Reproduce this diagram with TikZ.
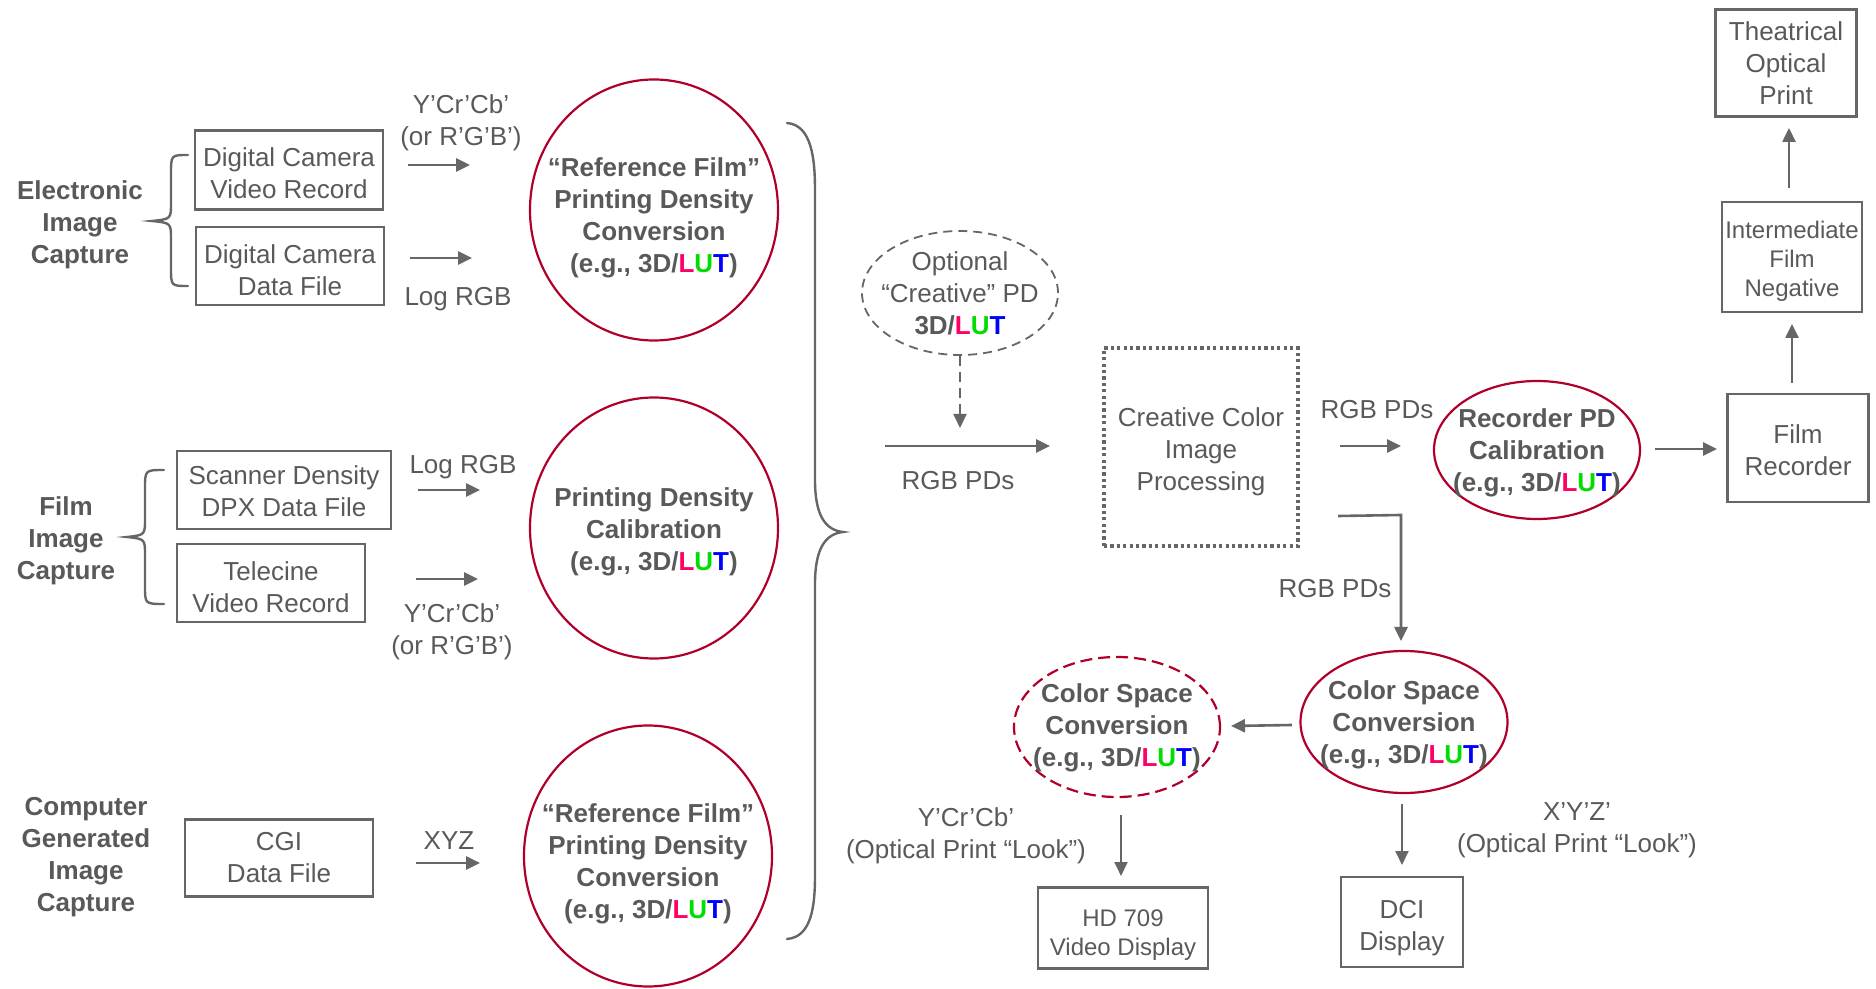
\documentclass[tikz,border=0pt]{standalone}
\usepackage{fontspec}
\setmainfont{Liberation Sans}
\usetikzlibrary{shapes.geometric,arrows.meta}
\definecolor{txt}{HTML}{595959}
\definecolor{ln}{HTML}{666666}
\definecolor{ered}{HTML}{B0002A}
\definecolor{lutL}{HTML}{FF0066}
\definecolor{lutU}{HTML}{00DD00}
\definecolor{lutT}{HTML}{0000FF}
\newcommand\lutword{\textcolor{lutL}{L}\textcolor{lutU}{U}\textcolor{lutT}{T}}
% centred block of lines, lowered by #1 without changing its size
\newcommand\mltext[2][0pt]{\raisebox{-#1}[\height][\depth]{\begin{tabular}{@{}c@{}}#2\end{tabular}}}

\begin{document}
\begin{tikzpicture}[x=0.5pt,y=-0.5pt,
  every node/.style={text=txt, font=\fontsize{13}{16}\selectfont, align=center, inner sep=0pt},
  box/.style={draw=ln, line width=1.2pt, rectangle},
  smallbox/.style={box, font=\fontsize{12}{14.5}\selectfont},
  lens/.style={ellipse, draw=ered, line width=1.1pt, inner xsep=-45pt, inner ysep=-40pt,
    font=\fontsize{13}{16}\selectfont\bfseries},
  dlens/.style={lens, dash pattern=on 6pt off 3pt},
  optlens/.style={ellipse, draw=ln, line width=0.9pt, dash pattern=on 4.5pt off 3pt,
    inner xsep=-40pt, inner ysep=-30pt},
  procbox/.style={rectangle, draw=ln, line width=1.6pt, dash pattern=on 1.6pt off 1.6pt},
  grouplabel/.style={font=\fontsize{13}{16}\selectfont\bfseries},
  arr/.style={draw=ln, line width=1.3pt, -{Triangle[length=7pt,width=6.5pt]}},
  thinarr/.style={draw=ln, line width=1pt, -{Triangle[length=7pt,width=6.5pt]}},
  dasharr/.style={thinarr, dash pattern=on 5pt off 3pt},
  brc/.style={draw=ln, line width=1.2pt, line cap=round}
]
\useasboundingbox (0,0) rectangle (1876,989);

% ---------- capture groups ----------
\node[grouplabel] (elec) at (80,225) {Electronic\\Image\\Capture};
\node[grouplabel] (filmcap) at (66,541) {Film\\Image\\Capture};
\node[grouplabel] (cgicap) at (86,857) {Computer\\Generated\\Image\\Capture};

\draw[brc] (188,155) .. controls (171,155) .. (171,174) -- (171,203)
  .. controls (171,219) .. (152,221) .. controls (171,223) .. (171,239)
  -- (171,268) .. controls (171,286) .. (188,286);
\draw[brc] (164,470) .. controls (145,470) .. (145,489) -- (145,519)
  .. controls (145,535) .. (127,537) .. controls (145,539) .. (145,555)
  -- (145,586) .. controls (145,604) .. (164,604);

\node[box, minimum width=94pt, minimum height=39.5pt] (dcvid) at (289,170) {\mltext[3pt]{Digital Camera\\Video Record}};
\node[box, minimum width=94pt, minimum height=39pt] (dcdat) at (290,266) {\mltext[3.6pt]{Digital Camera\\Data File}};
\node[box, minimum width=107pt, minimum height=39pt] (scan) at (284,490) {\mltext[2.1pt]{Scanner Density\\DPX Data File}};
\node[box, minimum width=94pt, minimum height=39pt] (tele) at (271,583) {\mltext[3.6pt]{Telecine\\Video Record}};
\node[box, minimum width=94pt, minimum height=38.5pt] (cgi) at (279,858) {\mltext[1.2pt]{CGI\\Data File}};

% ---------- input signal arrows ----------
\coordinate (a1s) at (408,165); \coordinate (a1e) at (470,165);
\coordinate (a2s) at (410,258); \coordinate (a2e) at (472,258);
\coordinate (a3s) at (418,490); \coordinate (a3e) at (480,490);
\coordinate (a4s) at (416,579); \coordinate (a4e) at (478,579);
\coordinate (a5s) at (416,863); \coordinate (a5e) at (480,863);
\draw[arr] (a1s) -- (a1e);
\draw[arr] (a2s) -- (a2e);
\draw[arr] (a3s) -- (a3e);
\draw[arr] (a4s) -- (a4e);
\draw[arr] (a5s) -- (a5e);

\node (l1) at (461,123) {Y’Cr’Cb’\\(or R’G’B’)};
\node (l2) at (458,299) {Log RGB};
\node (l3) at (463,467) {Log RGB};
\node (l4) at (452,632) {Y’Cr’Cb’\\(or R’G’B’)};
\node (l5) at (449,841) {XYZ};

% ---------- printing density conversions ----------
\node[lens, minimum width=124pt, minimum height=130.5pt] (pd1) at (654,210)
  {\mltext[4.3pt]{“Reference Film”\\Printing Density\\Conversion\\(e.g., 3D/\lutword)}};
\node[lens, minimum width=124pt, minimum height=130.5pt] (pd2) at (654,528)
  {\mltext[2.2pt]{Printing Density\\Calibration\\(e.g., 3D/\lutword)}};
\node[lens, minimum width=124pt, minimum height=130.5pt] (pd3) at (648,856)
  {\mltext[4.1pt]{“Reference Film”\\Printing Density\\Conversion\\(e.g., 3D/\lutword)}};

\draw[brc] (787,123) .. controls (812,125) and (815,160) .. (815,190) -- (815,480)
  .. controls (815,515) and (825,530) .. (843,532) .. controls (825,534) and (815,549) .. (815,584)
  -- (815,875) .. controls (815,905) and (812,937) .. (787,939);

% ---------- creative stage ----------
\node[optlens, minimum width=98pt, minimum height=62pt] (opt) at (960,293)
  {\mltext[1.6pt]{Optional\\“Creative” PD\\\textbf{3D/\lutword}}};
\coordinate (optend) at (960,428);
\draw[dasharr] (opt.south) -- (optend);

\coordinate (m1s) at (885,446); \coordinate (m1e) at (1050,446);
\draw[arr] (m1s) -- (m1e);
\node (l6) at (958,481) {RGB PDs};

\node[procbox, minimum width=97pt, minimum height=99pt] (proc) at (1201,447)
  {\mltext[2.6pt]{Creative Color\\Image\\Processing}};

% ---------- film recording branch ----------
\coordinate (r1s) at (1340,446); \coordinate (r1e) at (1401,446);
\draw[arr] (r1s) -- (r1e);
\node (l7) at (1377,410) {RGB PDs};

\node[lens, minimum width=103pt, minimum height=69pt] (rec) at (1537,450)
  {\mltext[1.5pt]{Recorder PD\\Calibration\\(e.g., 3D/\lutword)}};

\coordinate (r2s) at (1655,449); \coordinate (r2e) at (1717,449);
\draw[arr] (r2s) -- (r2e);

\node[box, minimum width=70.5pt, minimum height=54pt] (frec) at (1798,448) {\mltext[2.4pt]{Film\\Recorder}};
\node[smallbox, minimum width=70pt, minimum height=55pt] (inter) at (1792,257) {\mltext[2.4pt]{Intermediate\\Film\\Negative}};
\node[box, minimum width=70.5pt, minimum height=53.5pt] (theat) at (1786,63) {\mltext[1.8pt]{Theatrical\\Optical\\Print}};

\coordinate (u1s) at (1792,383); \coordinate (u1e) at (1792,324);
\coordinate (u2s) at (1789,188); \coordinate (u2e) at (1789,128);
\draw[arr] (u1s) -- (u1e);
\draw[arr] (u2s) -- (u2e);

% ---------- display branch ----------
\coordinate (b1) at (1338,516); \coordinate (b2) at (1401,515); \coordinate (b3) at (1401,641);
\draw[arr] (b1) -- (b2) -- (b3);
\node (l8) at (1335,589) {RGB PDs};

\node[lens, minimum width=103.5pt, minimum height=71pt] (cscr) at (1404,722)
  {\mltext[1.6pt]{Color Space\\Conversion\\(e.g., 3D/\lutword)}};
\node[dlens, minimum width=103pt, minimum height=70pt] (cscl) at (1117,727)
  {\mltext[0.5pt]{Color Space\\Conversion\\(e.g., 3D/\lutword)}};

\coordinate (h1s) at (1292,725); \coordinate (h1e) at (1231,726);
\draw[arr] (h1s) -- (h1e);

\coordinate (d1s) at (1121,815); \coordinate (d1e) at (1121,876);
\coordinate (d2s) at (1402,804); \coordinate (d2e) at (1402,865);
\draw[thinarr] (d1s) -- (d1e);
\draw[thinarr] (d2s) -- (d2e);

\node (l9) at (966,836) {Y’Cr’Cb’\\(Optical Print “Look”)};
\node (l10) at (1577,830) {X’Y’Z’\\(Optical Print “Look”)};

\node[smallbox, minimum width=85pt, minimum height=40.5pt] (hd) at (1123,928) {\mltext[3.5pt]{HD 709\\Video Display}};
\node[box, minimum width=61pt, minimum height=45pt] (dci) at (1402,922) {\mltext[2.9pt]{DCI\\Display}};

\end{tikzpicture}
\end{document}
